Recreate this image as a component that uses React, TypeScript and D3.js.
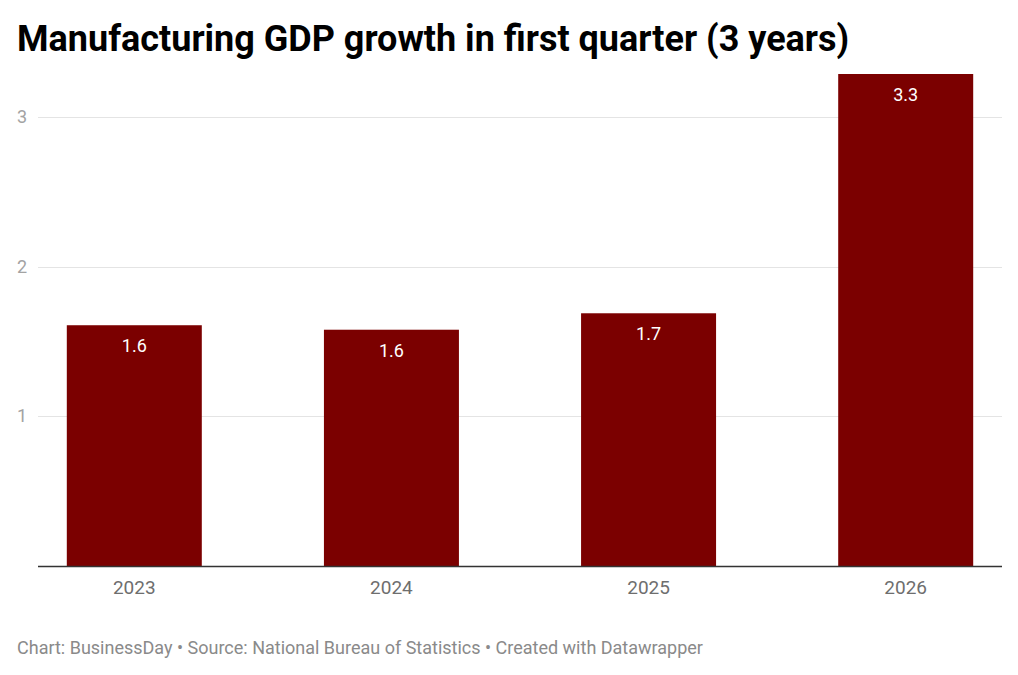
import { useEffect, useRef } from 'react';
import * as d3 from 'd3';

// Manufacturing GDP growth, first quarter (%)
const years = ['2023', '2024', '2025', '2026'];
const growth = [1.61, 1.58, 1.69, 3.29];
const yTicks = [1, 2, 3];

const title = 'Manufacturing GDP growth in first quarter (3 years)';
const footer = 'Chart: BusinessDay • Source: National Bureau of Statistics • Created with Datawrapper';

const W = 1018;
const H = 675;

const App = () => {
  const svgRef = useRef<SVGSVGElement>(null);

  useEffect(() => {
    const svg = d3.select(svgRef.current);
    svg.selectAll('*').remove();

    const left = 38;
    const right = 1002;
    const top = 74;
    const bottom = 566;

    const x = d3.scaleBand<string>()
      .domain(years)
      .range([left, right])
      .paddingInner(0.475)
      .paddingOuter(0.112);

    const y = d3.scaleLinear()
      .domain([0, 3.29])
      .range([bottom, top]);

    svg.append('rect').attr('width', W).attr('height', H).attr('fill', '#fff');

    // Title
    svg.append('text')
      .attr('x', 17)
      .attr('y', 51)
      .attr('font-family', 'Roboto')
      .attr('font-weight', 700)
      .attr('font-size', 36)
      .attr('fill', '#000')
      .text(title);

    // Gridlines + y labels
    const grid = svg.append('g');
    grid.selectAll('line')
      .data(yTicks)
      .enter().append('line')
      .attr('x1', left)
      .attr('x2', right)
      .attr('y1', d => Math.round(y(d)) + 0.5)
      .attr('y2', d => Math.round(y(d)) + 0.5)
      .attr('stroke', '#e4e4e4')
      .attr('stroke-width', 1);

    grid.selectAll('text')
      .data(yTicks)
      .enter().append('text')
      .attr('x', 27)
      .attr('y', d => y(d) + 6)
      .attr('text-anchor', 'end')
      .attr('font-family', 'Roboto')
      .attr('font-size', 18)
      .attr('fill', '#a3a3a3')
      .text(d => d);

    // Bars
    svg.append('g')
      .selectAll('rect')
      .data(growth)
      .enter().append('rect')
      .attr('x', (d, i) => x(years[i])!)
      .attr('y', d => y(d))
      .attr('width', x.bandwidth())
      .attr('height', d => bottom - y(d))
      .attr('fill', '#7b0000');

    // Value labels
    svg.append('g')
      .selectAll('text')
      .data(growth)
      .enter().append('text')
      .attr('x', (d, i) => x(years[i])! + x.bandwidth() / 2)
      .attr('y', d => y(d) + 27)
      .attr('text-anchor', 'middle')
      .attr('font-family', 'Roboto')
      .attr('font-size', 18)
      .attr('fill', '#fff')
      .text(d => d3.format('.1f')(d));

    // Baseline
    svg.append('line')
      .attr('x1', left)
      .attr('x2', right)
      .attr('y1', bottom + 0.5)
      .attr('y2', bottom + 0.5)
      .attr('stroke', '#333')
      .attr('stroke-width', 1.5);

    // X axis labels
    svg.append('g')
      .selectAll('text')
      .data(years)
      .enter().append('text')
      .attr('x', d => x(d)! + x.bandwidth() / 2)
      .attr('y', 594)
      .attr('text-anchor', 'middle')
      .attr('font-family', 'Roboto')
      .attr('font-size', 19)
      .attr('fill', '#6e6e6e')
      .text(d => d);

    // Footer
    svg.append('text')
      .attr('x', 17)
      .attr('y', 654)
      .attr('font-family', 'Roboto')
      .attr('font-size', 18)
      .attr('fill', '#8a8a8a')
      .text(footer);
  }, []);

  return (
    <svg
      ref={svgRef}
      width={W}
      height={H}
      style={{ position: 'absolute', left: 0, top: 0 }}
    />
  );
};

export default App;
